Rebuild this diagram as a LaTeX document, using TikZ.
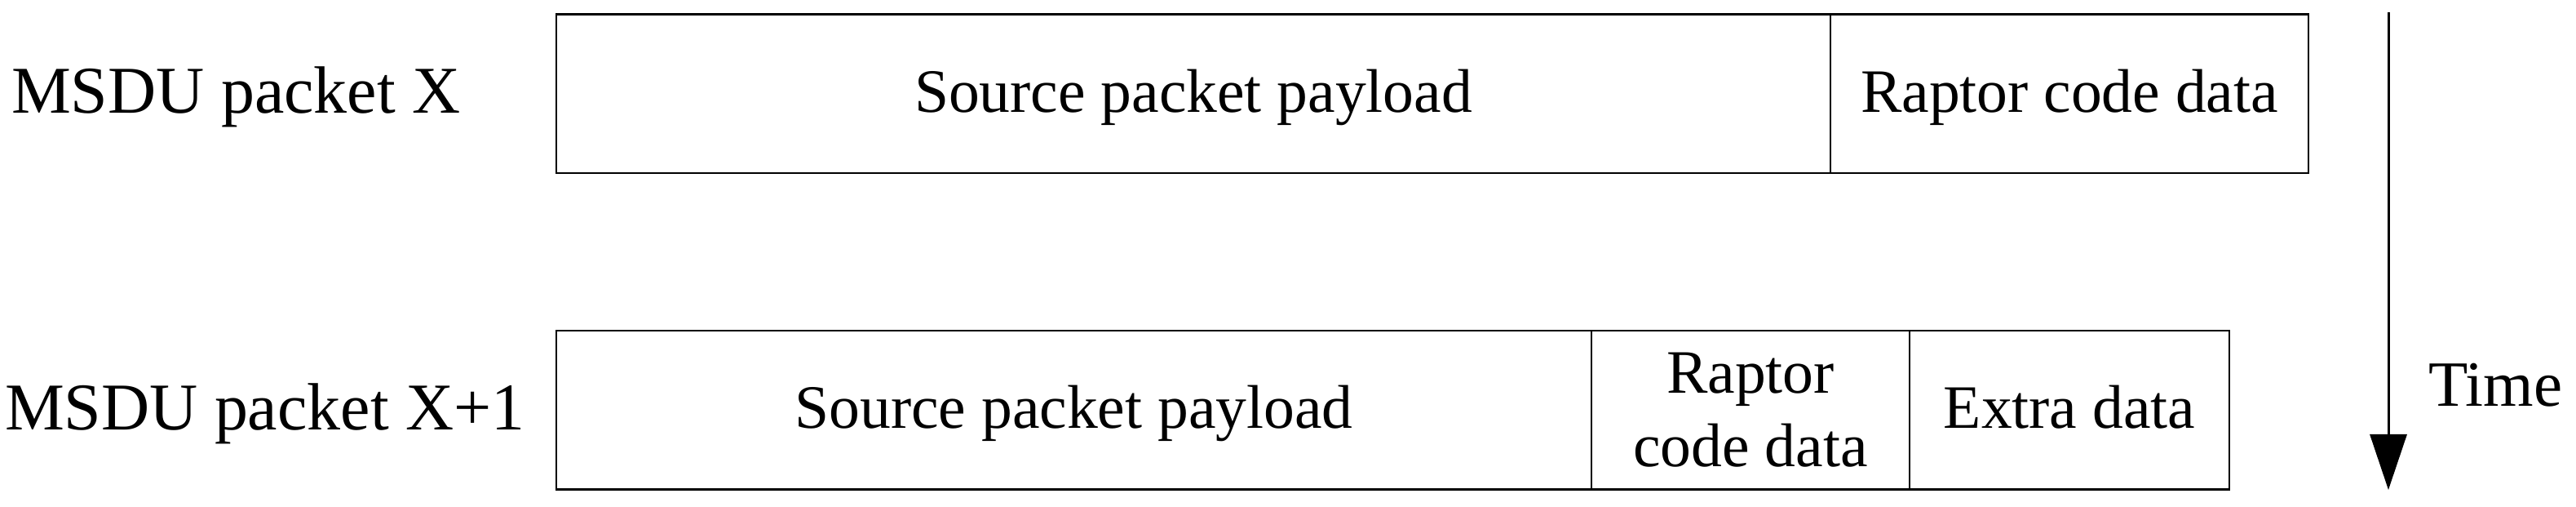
\documentclass[tikz,border=0pt]{standalone}
\usepackage{fontspec}
\setmainfont{Liberation Serif}
\usetikzlibrary{positioning,arrows.meta}

\begin{document}
\begin{tikzpicture}[every node/.style={outer sep=0pt},
                    cell/.style={draw,line width=0.7pt,minimum height=1.945cm,inner sep=2pt,align=center,
                                 font=\fontsize{21.5}{25.6}\selectfont},
                    oneline/.style={cell,text height=0.6cm,text depth=0.15cm},
                    packetlabel/.style={inner sep=0pt,anchor=base west,font=\fontsize{23.3}{28}\selectfont},
                    timearrow/.style={line width=0.85pt,-{Triangle[length=0.68cm,width=0.45cm]}}]
\useasboundingbox (0,0) rectangle (31.58,6.21);
\node[oneline, minimum width=15.62cm, anchor=north west] (src1) at (6.82,6.036) {Source packet payload};
\node[oneline, minimum width=5.86cm, right=0pt of src1] (rap1) {Raptor code data};
\node[oneline, minimum width=12.69cm, below=1.93cm of src1.south west, anchor=north west] (src2) {Source packet payload};
\node[cell, minimum width=3.90cm, right=0pt of src2] (rap2) {Raptor\\code data};
\node[oneline, minimum width=3.92cm, right=0pt of rap2] (extra2) {Extra data};
\node[packetlabel] (lblX) at (0.14,4.82) {MSDU packet X};
\node[packetlabel] (lblXone) at (0.06,0.94) {MSDU packet X+1};
\coordinate (tStart) at (29.28,6.06);
\coordinate (tEnd) at (29.28,0.21);
\draw[timearrow] (tStart) -- (tEnd);
\node[packetlabel, font=\fontsize{22.5}{27}\selectfont] (time) at (29.77,1.23) {Time};
\end{tikzpicture}
\end{document}
